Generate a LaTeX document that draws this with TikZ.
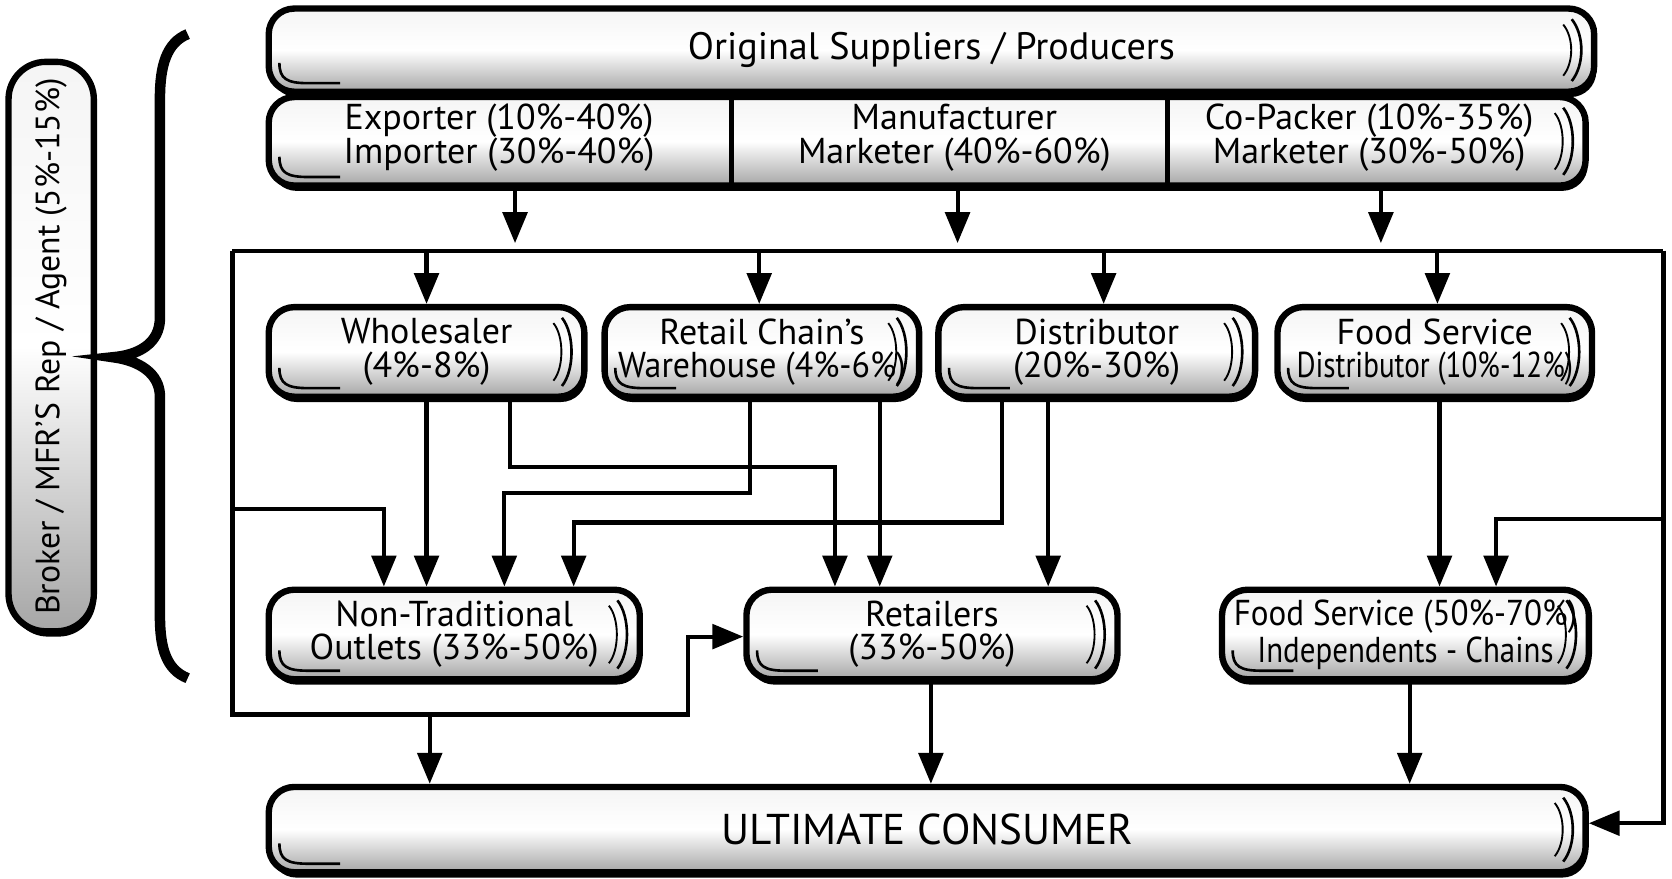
\documentclass[tikz,border=0pt]{standalone}
\usepackage{fontspec}
\usepackage{graphicx}
\setmainfont{PT Sans}
\usetikzlibrary{arrows.meta,shadows,calc}
\newcommand{\pilldeco}[1]{%
  \draw[line width=0.7pt] ([xshift=-2.4mm,yshift=-1.3mm]#1.north east) .. controls ([xshift=-1.2mm,yshift=-2.8mm]#1.north east) and ([xshift=-1.2mm,yshift=2.8mm]#1.south east) .. ([xshift=-2.4mm,yshift=1.3mm]#1.south east);
  \draw[line width=0.5pt] ([xshift=-3.2mm,yshift=-1.8mm]#1.north east) .. controls ([xshift=-2.2mm,yshift=-3mm]#1.north east) and ([xshift=-2.2mm,yshift=3mm]#1.south east) .. ([xshift=-3.2mm,yshift=1.8mm]#1.south east);
  \draw[line width=0.7pt] ([xshift=1.3mm,yshift=3mm]#1.south west) .. controls ([xshift=1.3mm,yshift=1.5mm]#1.south west) and ([xshift=2mm,yshift=1.1mm]#1.south west) .. ([xshift=4mm,yshift=1.1mm]#1.south west) -- ([xshift=7mm,yshift=1.1mm]#1.south west);
}
\newcommand{\sq}[2]{\scalebox{#1}[1]{#2}}
\begin{document}
\begin{tikzpicture}[x=0.1mm,y=-0.1mm,
  pill/.style={draw=black, line width=1.7pt, rounded corners=2.4mm,
    top color=black!4, bottom color=black!35, middle color=white, align=center, inner sep=0pt,
    font=\fontsize{9.6}{8.9}\selectfont,
    drop shadow={shadow xshift=0.2mm, shadow yshift=-0.5mm, opacity=1, fill=black}},
  txt/.style={align=center, inner sep=0pt, font=\fontsize{9.6}{9.2}\selectfont},
  conn/.style={line width=1.1pt},
  arr/.style={conn, -{Triangle[length=2.9mm,width=2.3mm]}},
]
\useasboundingbox (0,0) rectangle (1568,824);

% broker pill and brace
\node[pill, rotate=90, minimum width=53.4mm, minimum height=8mm, rounded corners=3.5mm, font=\fontsize{9}{10}\selectfont] (brk) at (48,325) {Broker / MFR'S Rep / Agent (5\%-15\%)};
\draw[line width=2.8pt] (176,32) .. controls (156,40) and (150,62) .. (150,92) -- (150,298) .. controls (150,322) and (130,333) .. (106,335) .. controls (130,338) and (150,350) .. (150,372) -- (150,578) .. controls (150,608) and (156,628) .. (176,636);

% top rows
\node[pill, minimum width=124.3mm, minimum height=7.8mm, font=\fontsize{10.2}{11}\selectfont] (top) at (873.5,47) {Original Suppliers / Producers};
\node[pill, minimum width=123.5mm, minimum height=8.3mm] (row2) at (869.5,132.5) {};
\coordinate (dv1) at (686,0);
\coordinate (dv2) at (1095,0);
\draw[line width=1.4pt] (row2.north -| dv1) -- (row2.south -| dv1);
\draw[line width=1.4pt] (row2.north -| dv2) -- (row2.south -| dv2);
\node[txt] (exp) at (468,129) {Exporter (10\%-40\%)\\Importer (30\%-40\%)};
\node[txt] (man) at (895,129) {Manufacturer\\Marketer (40\%-60\%)};
\node[txt] (cop) at (1284,129) {Co-Packer (10\%-35\%)\\Marketer (30\%-50\%)};

% level 2
\node[pill, minimum width=29.6mm, minimum height=8.4mm] (wh) at (400,330) {Wholesaler\\(4\%-8\%)};
\node[pill, minimum width=29.5mm, minimum height=8.4mm] (rc) at (714.5,330) {Retail Chain's\\\sq{0.94}{Warehouse (4\%-6\%)}};
\node[pill, minimum width=29.7mm, minimum height=8.4mm] (di) at (1028.5,330) {Distributor\\(20\%-30\%)};
\node[pill, minimum width=29.5mm, minimum height=8.4mm] (fsd) at (1345.5,330) {Food Service\\\sq{0.81}{Distributor (10\%-12\%)}};

% level 3
\node[pill, minimum width=34.8mm, minimum height=8.4mm] (nt) at (426,595) {Non-Traditional\\Outlets (33\%-50\%)};
\node[pill, minimum width=34.8mm, minimum height=8.4mm] (re) at (874,595) {Retailers\\(33\%-50\%)};
\node[pill, minimum width=34.4mm, minimum height=8.4mm] (fs) at (1318,595) {\sq{0.92}{Food Service (50\%-70\%)}\\\sq{0.86}{Independents - Chains}};

% consumer
\node[pill, minimum width=123.5mm, minimum height=8mm, font=\fontsize{11.5}{13}\selectfont] (uc) at (869.5,778) {ULTIMATE CONSUMER};

\foreach \n in {top,row2,wh,rc,di,fsd,nt,re,fs,uc} {\pilldeco{\n}}

% connectors from row 2 to the bus
\coordinate (a1) at (483,228);
\coordinate (a2) at (898,228);
\coordinate (a3) at (1295,228);
\draw[arr] (row2.south -| a1) -- (a1);
\draw[arr] (row2.south -| a2) -- (a2);
\draw[arr] (row2.south -| a3) -- (a3);

% bus
\coordinate (bl) at (218,235);
\coordinate (br) at (1560,235);
\draw[conn] (bl) -- (br);
\coordinate (t1) at (400,235);
\coordinate (t2) at (712,235);
\coordinate (t3) at (1035,235);
\coordinate (t4) at (1348,235);
\draw[arr] (t1) -- (wh.north -| t1);
\draw[arr] (t2) -- (rc.north -| t2);
\draw[arr] (t3) -- (di.north -| t3);
\draw[arr] (t4) -- (fsd.north -| t4);

% left loop
\coordinate (lb) at (218,670);
\coordinate (lc) at (645,670);
\coordinate (ld) at (645,597);
\draw[arr] (bl) -- (lb) -- (lc) -- (ld) -- (re.west |- ld);
\coordinate (le) at (403,670);
\draw[arr] (le) -- (uc.north -| le);
\coordinate (lf) at (218,477);
\coordinate (lg) at (360,477);
\draw[arr] (lf) -- (lg) -- (nt.north -| lg);

% wholesaler
\draw[arr] (wh.south -| t1) -- (nt.north -| t1);
\coordinate (w2) at (478,438);
\coordinate (w3) at (783,438);
\draw[arr] (wh.south -| w2) -- (w2) -- (w3) -- (re.north -| w3);

% retail chain's warehouse
\coordinate (r1) at (703,462);
\coordinate (r2) at (473,462);
\draw[arr] (rc.south -| r1) -- (r1) -- (r2) -- (nt.north -| r2);
\coordinate (r3) at (825,0);
\draw[arr] (rc.south -| r3) -- (re.north -| r3);

% distributor
\coordinate (d1) at (940,490);
\coordinate (d2) at (538,490);
\draw[arr] (di.south -| d1) -- (d1) -- (d2) -- (nt.north -| d2);
\coordinate (d3) at (983,0);
\draw[arr] (di.south -| d3) -- (re.north -| d3);

% food service distributor
\coordinate (f1) at (1350,0);
\draw[arr] (fsd.south -| f1) -- (fs.north -| f1);

% right loop
\coordinate (rb1) at (1560,487);
\coordinate (rb2) at (1403,487);
\draw[arr] (rb1) -- (rb2) -- (fs.north -| rb2);
\coordinate (rb3) at (1560,772);
\draw[arr] (br) -- (rb3) -- (uc.east |- rb3);

% level 3 to consumer
\coordinate (e1) at (873,0);
\coordinate (e2) at (1322,0);
\draw[arr] (re.south -| e1) -- (uc.north -| e1);
\draw[arr] (fs.south -| e2) -- (uc.north -| e2);
\end{tikzpicture}
\end{document}
